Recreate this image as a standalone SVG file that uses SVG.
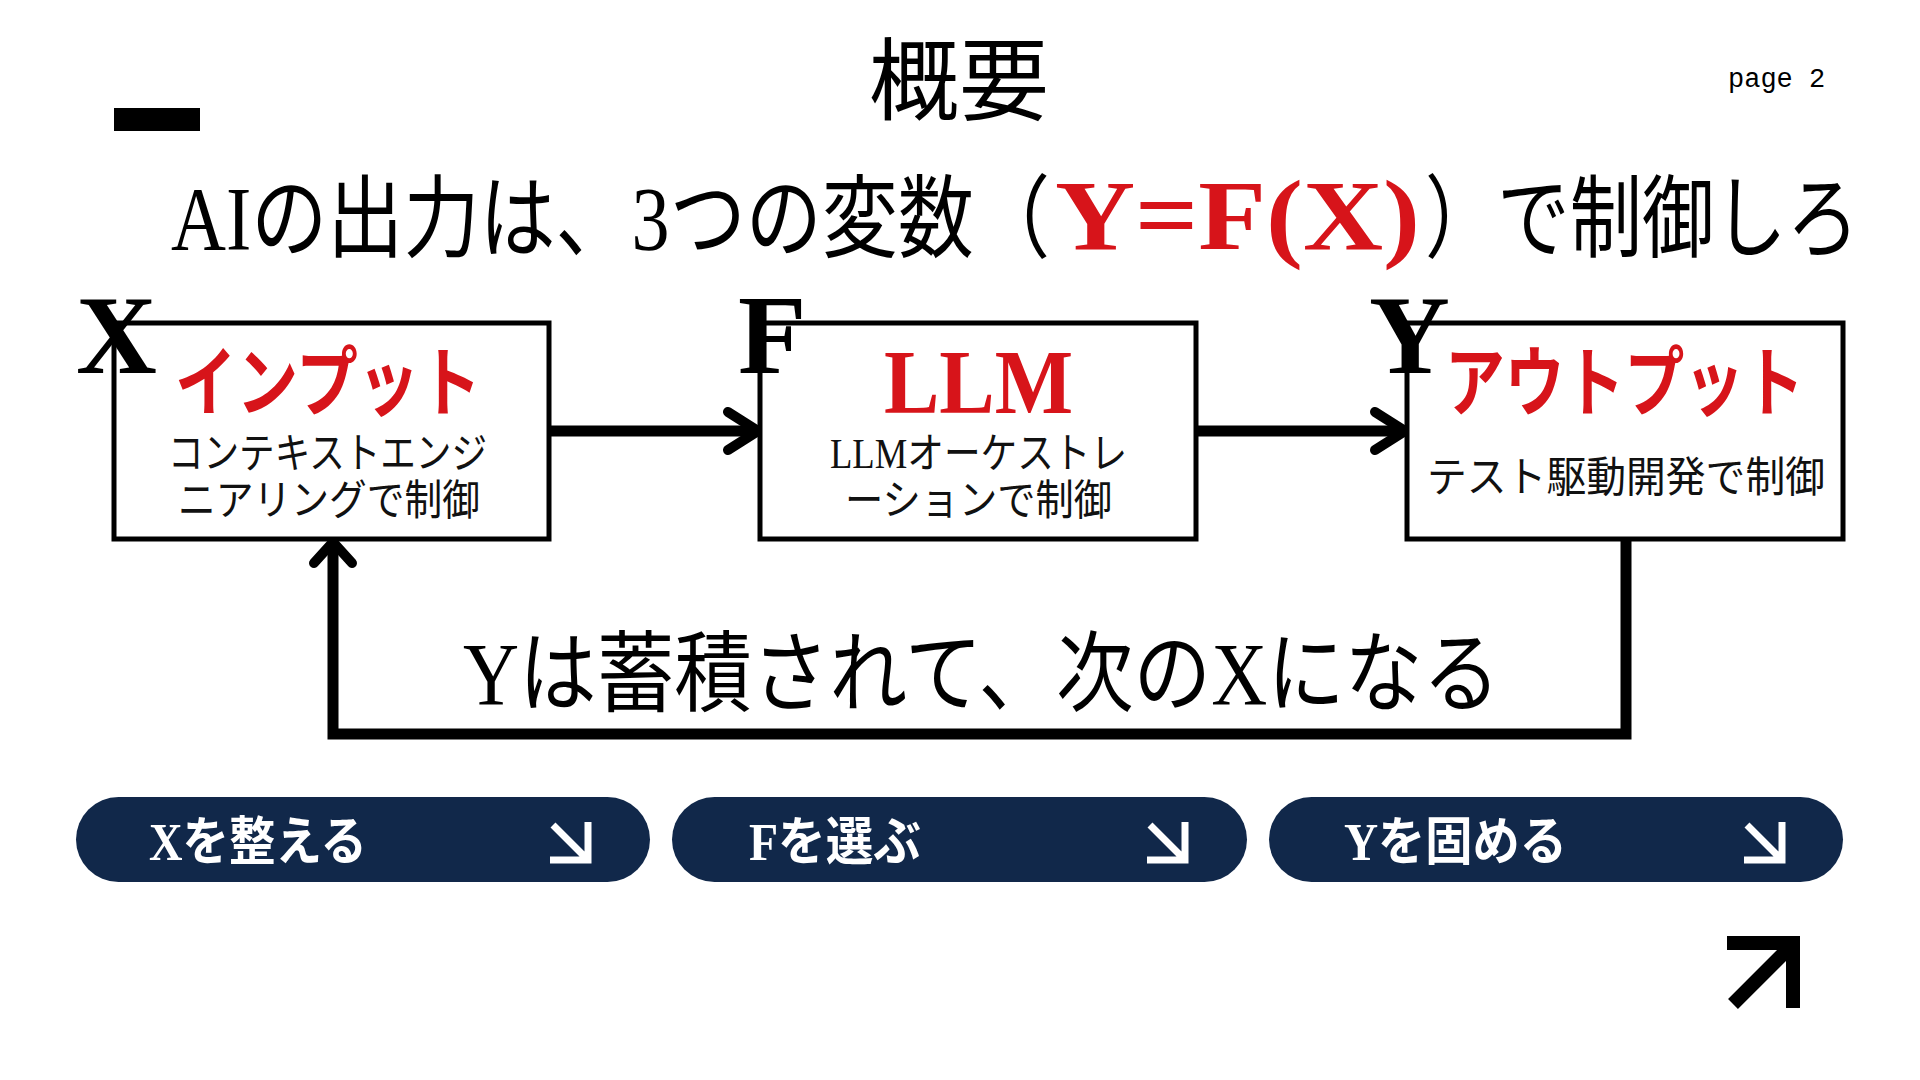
<svg xmlns="http://www.w3.org/2000/svg" width="1920" height="1080" viewBox="0 0 1920 1080">
<defs>
<style>
.jp{font-family:"Liberation Serif","Noto Sans CJK JP",serif;}
.title{font-family:"Noto Sans CJK JP",sans-serif;font-weight:700;fill:#d7141a;}
.big{font-family:"Liberation Serif","Noto Sans CJK JP",serif;font-weight:700;font-size:112px;fill:#000;}
.sub{font-family:"Liberation Serif","Noto Sans CJK JP",serif;font-size:42px;fill:#111;}
.box{fill:#fff;stroke:#000;stroke-width:5;}
.conn{fill:none;stroke:#000;stroke-width:11;stroke-linejoin:miter;}
.head{fill:none;stroke:#000;stroke-width:10;stroke-linecap:round;stroke-linejoin:round;}
.pill{fill:#11284a;}
.btxt{font-family:"Liberation Serif","Noto Sans CJK JP",serif;font-weight:700;font-size:52px;fill:#fff;}
.barrow{fill:none;stroke:#fff;stroke-width:7;}
</style>
</defs>
<rect width="1920" height="1080" fill="#fff"/>

<g id="header">
<text class="jp" x="959" y="113" font-size="90" text-anchor="middle" fill="#000">概要</text>
<text x="1728" y="87" font-family="Liberation Mono, monospace" font-size="27" fill="#000">page 2</text>
<rect x="114" y="108" width="86" height="23" fill="#000"/>
<g transform="translate(171,250) scale(1,1.22)">
<text class="jp" x="0" y="0" font-size="74" fill="#000" textLength="879" lengthAdjust="spacingAndGlyphs">AIの出力は、3つの変数（</text>
</g>
<text x="1055" y="249" font-family="Liberation Serif, serif" font-weight="700" font-size="100" fill="#d7141a" textLength="365" lengthAdjust="spacingAndGlyphs">Y=F(X)</text>
<g transform="translate(1425,250) scale(1,1.22)">
<text class="jp" x="0" y="0" font-size="74" fill="#000" textLength="434" lengthAdjust="spacingAndGlyphs">）で制御しろ</text>
</g>
</g>

<g id="connectors">
<line class="conn" x1="549" y1="431" x2="752" y2="431"/>
<polyline class="head" points="728,412 758,431 728,450"/>
<line class="conn" x1="1196" y1="431" x2="1399" y2="431"/>
<polyline class="head" points="1375,412 1405,431 1375,450"/>
<polyline class="conn" points="1626,539 1626,734 333,734 333,546"/>
<polyline class="head" points="314,563 333,542 352,563"/>
</g>

<g id="node-input">
<rect class="box" x="114" y="323" width="435" height="216"/>
<text class="big" x="76" y="373">X</text>
<text class="title" x="175" y="410" font-size="76" textLength="306" lengthAdjust="spacingAndGlyphs">インプット</text>
<text class="sub" x="168" y="468" textLength="319" lengthAdjust="spacingAndGlyphs">コンテキストエンジ</text>
<text class="sub" x="178" y="515" textLength="302" lengthAdjust="spacingAndGlyphs">ニアリングで制御</text>
</g>

<g id="node-llm">
<rect class="box" x="760" y="323" width="436" height="216"/>
<text class="big" x="738" y="373">F</text>
<text x="884" y="413" font-family="Liberation Serif, serif" font-weight="700" font-size="92" fill="#d7141a" textLength="189" lengthAdjust="spacingAndGlyphs">LLM</text>
<text class="sub" x="830" y="468" textLength="297" lengthAdjust="spacingAndGlyphs">LLMオーケストレ</text>
<text class="sub" x="845" y="515" textLength="267" lengthAdjust="spacingAndGlyphs">ーションで制御</text>
</g>

<g id="node-output">
<rect class="box" x="1407" y="323" width="436" height="216"/>
<text class="big" x="1369" y="373">Y</text>
<text class="title" x="1445" y="410" font-size="76" textLength="359" lengthAdjust="spacingAndGlyphs">アウトプット</text>
<text class="sub" x="1427" y="492" font-size="44" textLength="398" lengthAdjust="spacingAndGlyphs">テスト駆動開発で制御</text>
</g>

<g id="feedback-label">
<text class="jp" x="463" y="704" font-size="88" fill="#000" textLength="1037" lengthAdjust="spacingAndGlyphs">Yは蓄積されて、次のXになる</text>
</g>

<g id="button-x">
<rect class="pill" x="76" y="797" width="574" height="85" rx="42.5"/>
<text class="btxt" x="149" y="860" textLength="218" lengthAdjust="spacingAndGlyphs">Xを整える</text>
<path class="barrow" d="M553,825 L585,857 M550,860 L588,860 L588,822"/>
</g>
<g id="button-f">
<rect class="pill" x="672" y="797" width="575" height="85" rx="42.5"/>
<text class="btxt" x="749" y="860" textLength="172" lengthAdjust="spacingAndGlyphs">Fを選ぶ</text>
<path class="barrow" d="M1150,825 L1182,857 M1147,860 L1185,860 L1185,822"/>
</g>
<g id="button-y">
<rect class="pill" x="1269" y="797" width="574" height="85" rx="42.5"/>
<text class="btxt" x="1344" y="860" textLength="223" lengthAdjust="spacingAndGlyphs">Yを固める</text>
<path class="barrow" d="M1747,825 L1779,857 M1744,860 L1782,860 L1782,822"/>
</g>

<g id="corner-arrow">
<path d="M1727,943 L1793,943 L1793,1008 M1733,1004 L1791,946" fill="none" stroke="#000" stroke-width="14"/>
</g>
</svg>
